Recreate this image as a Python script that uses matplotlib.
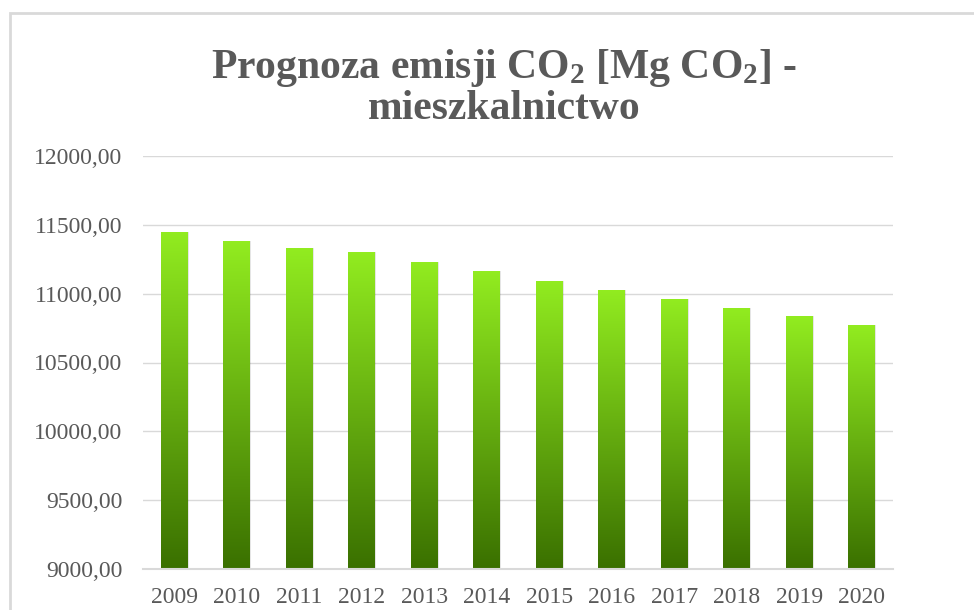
import numpy as np
import matplotlib
matplotlib.use("Agg")
import matplotlib.pyplot as plt
from matplotlib.patches import Rectangle

plt.rcParams['font.family'] = ['Liberation Serif', 'DejaVu Serif']
plt.rcParams['mathtext.fontset'] = 'custom'
plt.rcParams['mathtext.default'] = 'regular'

years = ['2009', '2010', '2011', '2012', '2013', '2014',
         '2015', '2016', '2017', '2018', '2019', '2020']
emisja = [11451, 11379, 11331, 11301, 11229, 11163,
          11095, 11029, 10964, 10898, 10835, 10770]
yticks = [9000, 9500, 10000, 10500, 11000, 11500, 12000]

grey = '#595959'
top_col = np.array([146, 236, 32]) / 255.
bot_col = np.array([58, 112, 0]) / 255.

fig = plt.figure(figsize=(9.74, 6.10), dpi=100)
ax = fig.add_axes([143/974, 1 - 569/610, 750/974, (569 - 156)/610])

# ramka wykresu
fig.patches.append(Rectangle((10/974, -0.05), 1.0, 1 - 13/610 + 0.05,
                             transform=fig.transFigure, fill=False,
                             edgecolor='#d9d9d9', linewidth=2))

x = np.arange(len(years))
w = 0.43

# cien
ax.bar(x + 0.012, np.array(emisja) - 9000, width=w + 0.01, bottom=9000,
       color='black', alpha=0.10, zorder=2)

bars = ax.bar(x, np.array(emisja) - 9000, width=w, bottom=9000,
              facecolor='none', edgecolor='none', zorder=3)

t = np.linspace(0, 1, 256)[:, None]
grad = (top_col[None, :] * (1 - t) + bot_col[None, :] * t)[:, None, :]
for b, v in zip(bars, emisja):
    x0 = b.get_x()
    im = ax.imshow(grad, extent=[x0, x0 + w, 9000, v], origin='upper',
                   aspect='auto', zorder=3, interpolation='bilinear')
    im.set_clip_path(b)

ax.set_xlim(-0.5, len(years) - 0.5)
ax.set_ylim(9000, 12000)
ax.set_yticks(yticks)
ax.set_yticklabels([f'{v},00' for v in yticks])
ax.set_xticks(x)
ax.set_xticklabels(years)
ax.tick_params(axis='y', length=0, pad=15, labelsize=17, labelcolor=grey)
ax.tick_params(axis='x', length=0, pad=13, labelsize=17, labelcolor=grey)
ax.yaxis.grid(True, color='#d9d9d9', linewidth=1)
ax.set_axisbelow(True)
for s in ['top', 'right', 'left']:
    ax.spines[s].set_visible(False)
ax.spines['bottom'].set_color('#d9d9d9')
ax.spines['bottom'].set_linewidth(1.5)
ax.spines['bottom'].set_zorder(4)

fig.text(504/974, 1 - 119/610,
         'Prognoza emisji CO$_2$ [Mg CO$_2$] -\nmieszkalnictwo',
         ha='center', va='baseline', fontsize=30, fontweight='bold',
         color=grey, linespacing=1.05, multialignment='center')

fig.savefig('out.png', dpi=100)
